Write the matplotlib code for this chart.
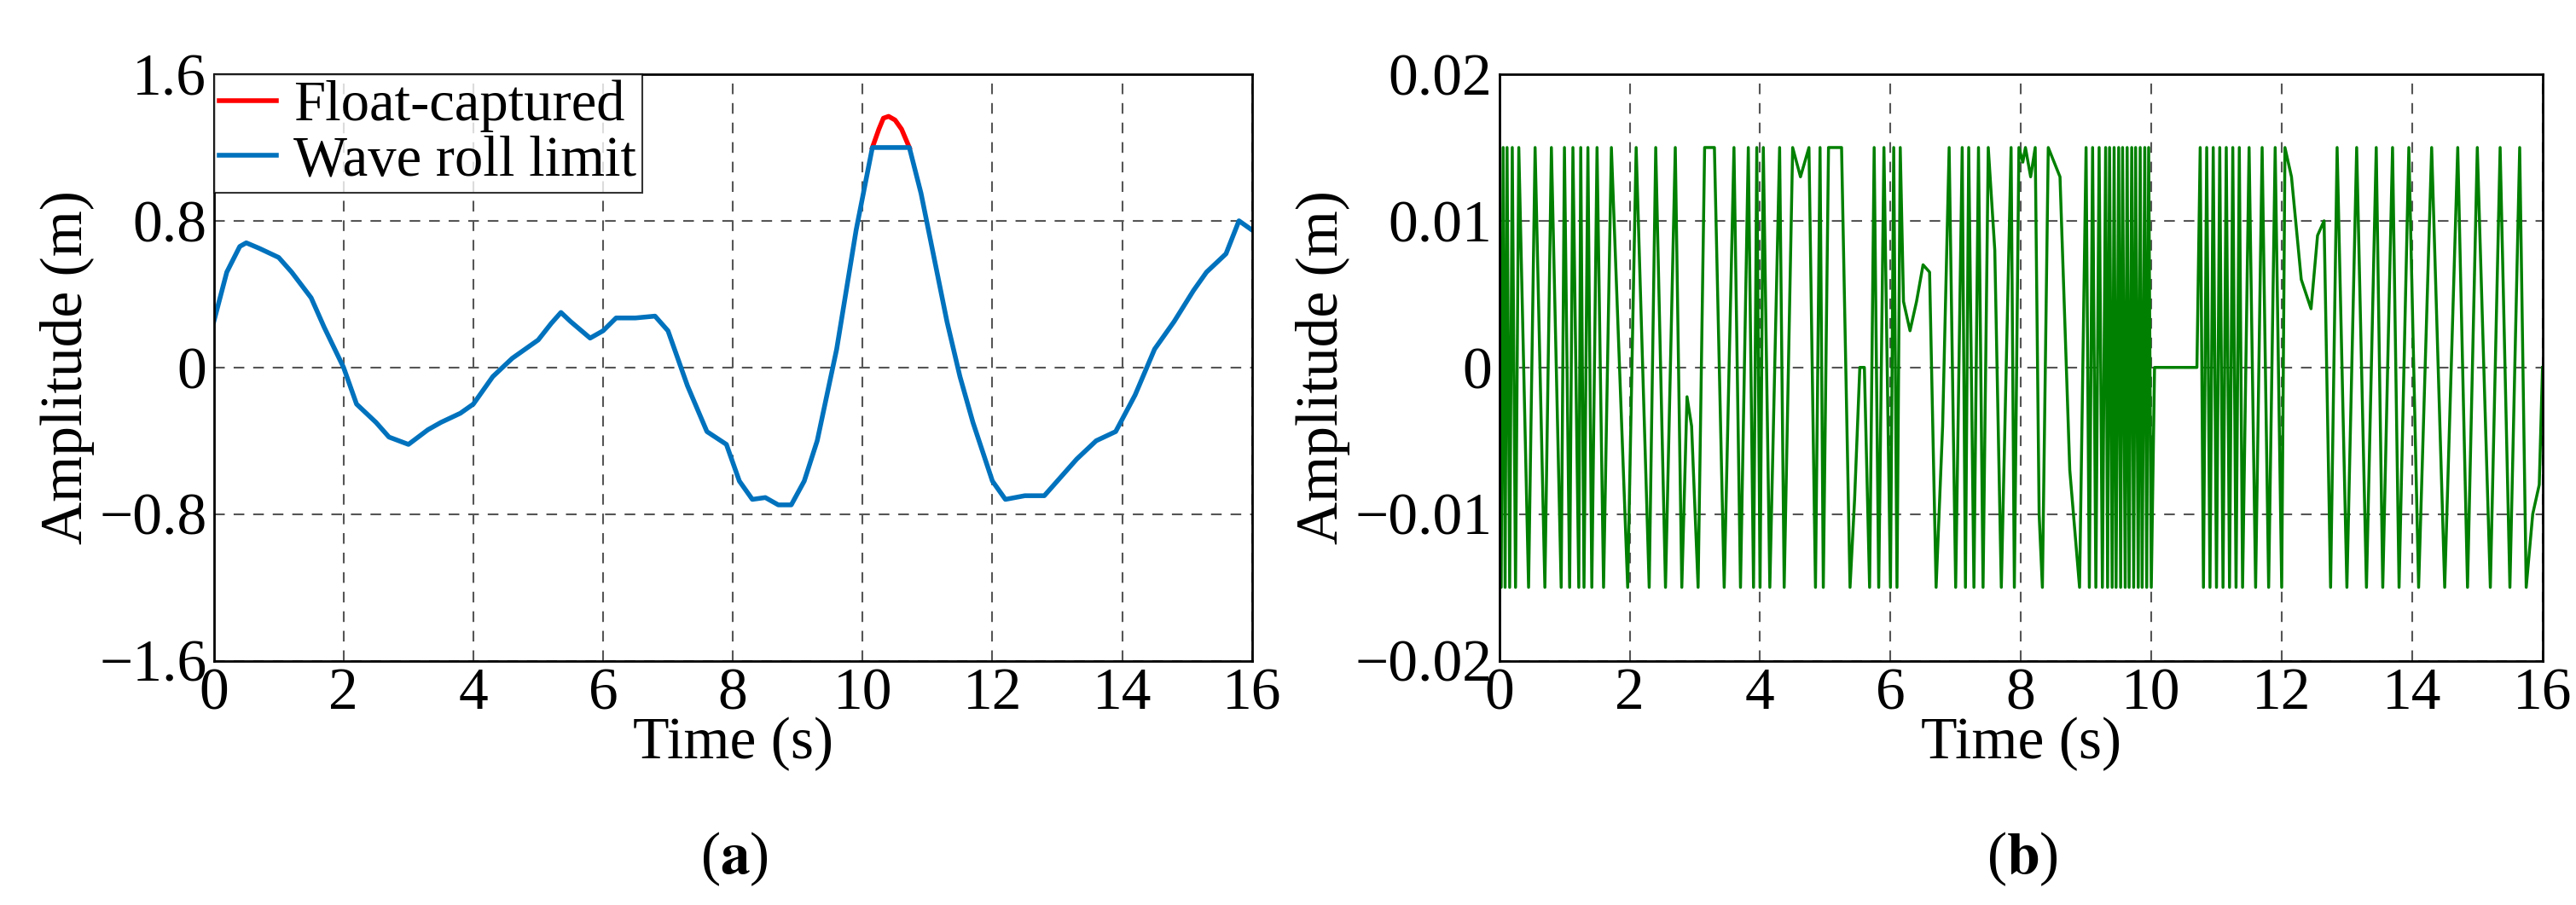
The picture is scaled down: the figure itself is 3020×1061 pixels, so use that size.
import matplotlib
matplotlib.use('Agg')
import matplotlib.pyplot as plt
import numpy as np

plt.rcParams['font.family'] = ['Liberation Serif', 'DejaVu Serif']
plt.rcParams['mathtext.fontset'] = 'stix'

# (a) wave roll signal (s, m)
t_wave = [0, 0.2, 0.4, 0.5, 0.7, 1.0, 1.2, 1.5, 1.7, 2.0, 2.2, 2.5, 2.7, 3.0, 3.3, 3.5, 3.8, 4.0,
          4.3, 4.6, 5.0, 5.2, 5.35, 5.5, 5.8, 6.0, 6.2, 6.5, 6.8, 7.0, 7.3, 7.6, 7.9, 8.1, 8.3,
          8.5, 8.7, 8.9, 9.1, 9.3, 9.6, 9.9, 10.15]
y_wave = [0.25, 0.52, 0.66, 0.68, 0.65, 0.6, 0.52, 0.38, 0.22, 0.0, -0.2, -0.3, -0.38, -0.42, -0.34, -0.3,
          -0.25, -0.2, -0.05, 0.05, 0.15, 0.24, 0.3, 0.25, 0.16, 0.2, 0.27, 0.27, 0.28, 0.2, -0.1,
          -0.35, -0.42, -0.62, -0.72, -0.71, -0.75, -0.75, -0.62, -0.4, 0.1, 0.75, 1.2]
t_wave2 = [10.72, 10.9, 11.1, 11.3, 11.5, 11.7, 12.0, 12.2, 12.5, 12.8, 13.0, 13.3, 13.6, 13.9,
           14.2, 14.5, 14.8, 15.1, 15.3, 15.6, 15.8, 16.0]
y_wave2 = [1.2, 0.95, 0.6, 0.25, -0.05, -0.3, -0.62, -0.72, -0.7, -0.7, -0.62, -0.5, -0.4, -0.35,
           -0.15, 0.1, 0.25, 0.42, 0.52, 0.62, 0.8, 0.75]
t_cap = [10.15, 10.72]
y_cap = [1.2, 1.2]
t_float = [10.15, 10.25, 10.32, 10.4, 10.5, 10.6, 10.72]
y_float = [1.2, 1.3, 1.36, 1.37, 1.35, 1.3, 1.2]

# (b) switching signal extremes (s, m), three stretches
t_ctrl_a = [0, 0.03, 0.06, 0.09, 0.12, 0.16, 0.2, 0.25, 0.3, 0.45, 0.55, 0.7, 0.8, 0.95, 1.0, 1.08,
            1.13, 1.22, 1.25, 1.3, 1.36, 1.42, 1.5, 1.6, 1.72, 1.97, 2.1, 2.3, 2.4, 2.55, 2.7, 2.8,
            2.88, 2.95, 3.05, 3.15, 3.3, 3.45, 3.6, 3.7, 3.82, 3.9, 3.95, 4.0, 4.05, 4.15, 4.3,
            4.37, 4.5, 4.62, 4.75, 4.85, 4.92, 4.97, 5.05, 5.25, 5.38, 5.45, 5.53, 5.6, 5.68,
            5.75, 5.82, 5.9, 6.0, 6.05, 6.1, 6.15, 6.2, 6.3, 6.4, 6.5, 6.6, 6.7, 6.8, 6.9, 7.0,
            7.1, 7.15, 7.2, 7.28, 7.35, 7.42, 7.5, 7.6, 7.7, 7.85, 7.9, 7.97, 8.03, 8.07, 8.15,
            8.22, 8.28, 8.33, 8.42, 8.6, 8.75, 8.9]
y_ctrl_a = [0.015, -0.015, 0.015, -0.015, 0.015, -0.015, 0.015, -0.015, 0.015, -0.015, 0.015,
            -0.015, 0.015, -0.015, 0.015, -0.015, 0.015, -0.015, 0.015, -0.015, 0.015, -0.015,
            0.015, -0.015, 0.015, -0.015, 0.015, -0.015, 0.015, -0.015, 0.015, -0.015, -0.002,
            -0.004, -0.015, 0.015, 0.015, -0.015, 0.015, -0.015, 0.015, -0.015, 0.015, -0.015,
            0.015, -0.015, 0.015, -0.015, 0.015, 0.013, 0.015, -0.015, 0.015, -0.015, 0.015,
            0.015, -0.015, -0.009, 0.0, 0.0, -0.015, 0.015, -0.015, 0.015, -0.015, 0.015, -0.015,
            0.015, 0.0045, 0.0025, 0.0045, 0.007, 0.0065, -0.015, -0.004, 0.015, -0.015, 0.015,
            -0.015, 0.015, -0.015, 0.015, -0.015, 0.015, 0.008, -0.015, 0.015, -0.015, 0.015,
            0.014, 0.015, 0.013, 0.015, -0.01, -0.015, 0.015, 0.013, -0.007, -0.015]
t_ctrl_b = [9.0, 9.05, 9.1, 9.15, 9.2, 9.25, 9.3, 9.33, 9.36, 9.4, 9.43, 9.46, 9.5, 9.53, 9.56,
            9.6, 9.63, 9.66, 9.7, 9.73, 9.76, 9.8, 9.83, 9.86, 9.9, 9.93, 9.96, 10.0, 10.05, 10.7]
y_ctrl_b = [0.015, -0.015, 0.015, -0.015, 0.015, -0.015, 0.015, -0.015, 0.015, -0.015, 0.015,
            -0.015, 0.015, -0.015, 0.015, -0.015, 0.015, -0.015, 0.015, -0.015, 0.015, -0.015,
            0.015, -0.015, 0.015, -0.015, 0.015, -0.015, 0.0, 0.0]
t_ctrl_c = [10.75, 10.8, 10.85, 10.9, 10.95, 11.0, 11.05, 11.1, 11.15, 11.2, 11.25, 11.3, 11.35,
            11.4, 11.5, 11.6, 11.7, 11.8, 11.9, 12.0, 12.05, 12.15, 12.3, 12.45, 12.55, 12.65,
            12.75, 12.85, 13.0, 13.15, 13.3, 13.45, 13.55, 13.7, 13.8, 13.95, 14.1, 14.3, 14.5,
            14.7, 14.85, 15.0, 15.2, 15.35, 15.5, 15.65, 15.75, 15.85, 15.95, 16.0]
y_ctrl_c = [0.015, -0.015, 0.015, -0.015, 0.015, -0.015, 0.015, -0.015, 0.015, -0.015, 0.015,
            -0.015, 0.015, -0.015, 0.015, -0.015, 0.015, -0.015, 0.015, -0.015, 0.015, 0.013,
            0.006, 0.004, 0.009, 0.01, -0.015, 0.015, -0.015, 0.015, -0.015, 0.015, -0.015, 0.015,
            -0.015, 0.015, -0.015, 0.015, -0.015, 0.015, -0.015, 0.015, -0.015, 0.015, -0.015,
            0.015, -0.015, -0.01, -0.008, 0.0]

fig = plt.figure(figsize=(30.2, 10.61), dpi=100)
ax1 = fig.add_axes([0.083, 0.27, 0.403, 0.648])
ax2 = fig.add_axes([0.582, 0.27, 0.405, 0.648])

blue = '#0072BD'
ax1.plot(t_float, y_float, color='red', lw=4, label='Float-captured')
ax1.plot(t_wave + t_cap + t_wave2, y_wave + y_cap + y_wave2, color=blue, lw=4, label='Wave roll limit')
ax1.set_ylim(-1.6, 1.6)
ax1.set_yticks([-1.6, -0.8, 0, 0.8, 1.6])
ax1.set_yticklabels(['\u22121.6', '\u22120.8', '0', '0.8', '1.6'])
leg = ax1.legend(loc='upper left', fontsize=48, frameon=True, fancybox=False, borderaxespad=0,
                 handlelength=1.0, handletextpad=0.3, borderpad=0.1, labelspacing=0.05)
leg.get_frame().set_edgecolor('black')
leg.get_frame().set_linewidth(1.5)

ax2.plot(t_ctrl_a + t_ctrl_b + t_ctrl_c, y_ctrl_a + y_ctrl_b + y_ctrl_c, color='#008000', lw=2.5)
ax2.set_ylim(-0.02, 0.02)
ax2.set_yticks([-0.02, -0.01, 0, 0.01, 0.02])
ax2.set_yticklabels(['\u22120.02', '\u22120.01', '0', '0.01', '0.02'])

for ax in (ax1, ax2):
    ax.set_xlim(0, 16)
    ax.set_xticks(range(0, 17, 2))
    ax.grid(True, color='#555555', linestyle=(0, (6, 5)), linewidth=1.5)
    ax.tick_params(length=0, labelsize=50, pad=6)
    ax.set_xlabel('Time (s)', fontsize=50, labelpad=-4)
    ax.set_ylabel('Amplitude (m)', fontsize=50, labelpad=4)
    for s in ax.spines.values():
        s.set_linewidth(2)

fig.text(0.285, 0.035, r'($\mathbf{a}$)', ha='center', fontsize=50)
fig.text(0.785, 0.035, r'($\mathbf{b}$)', ha='center', fontsize=50)

plt.savefig('out.png', dpi=100)
plt.close(fig)
